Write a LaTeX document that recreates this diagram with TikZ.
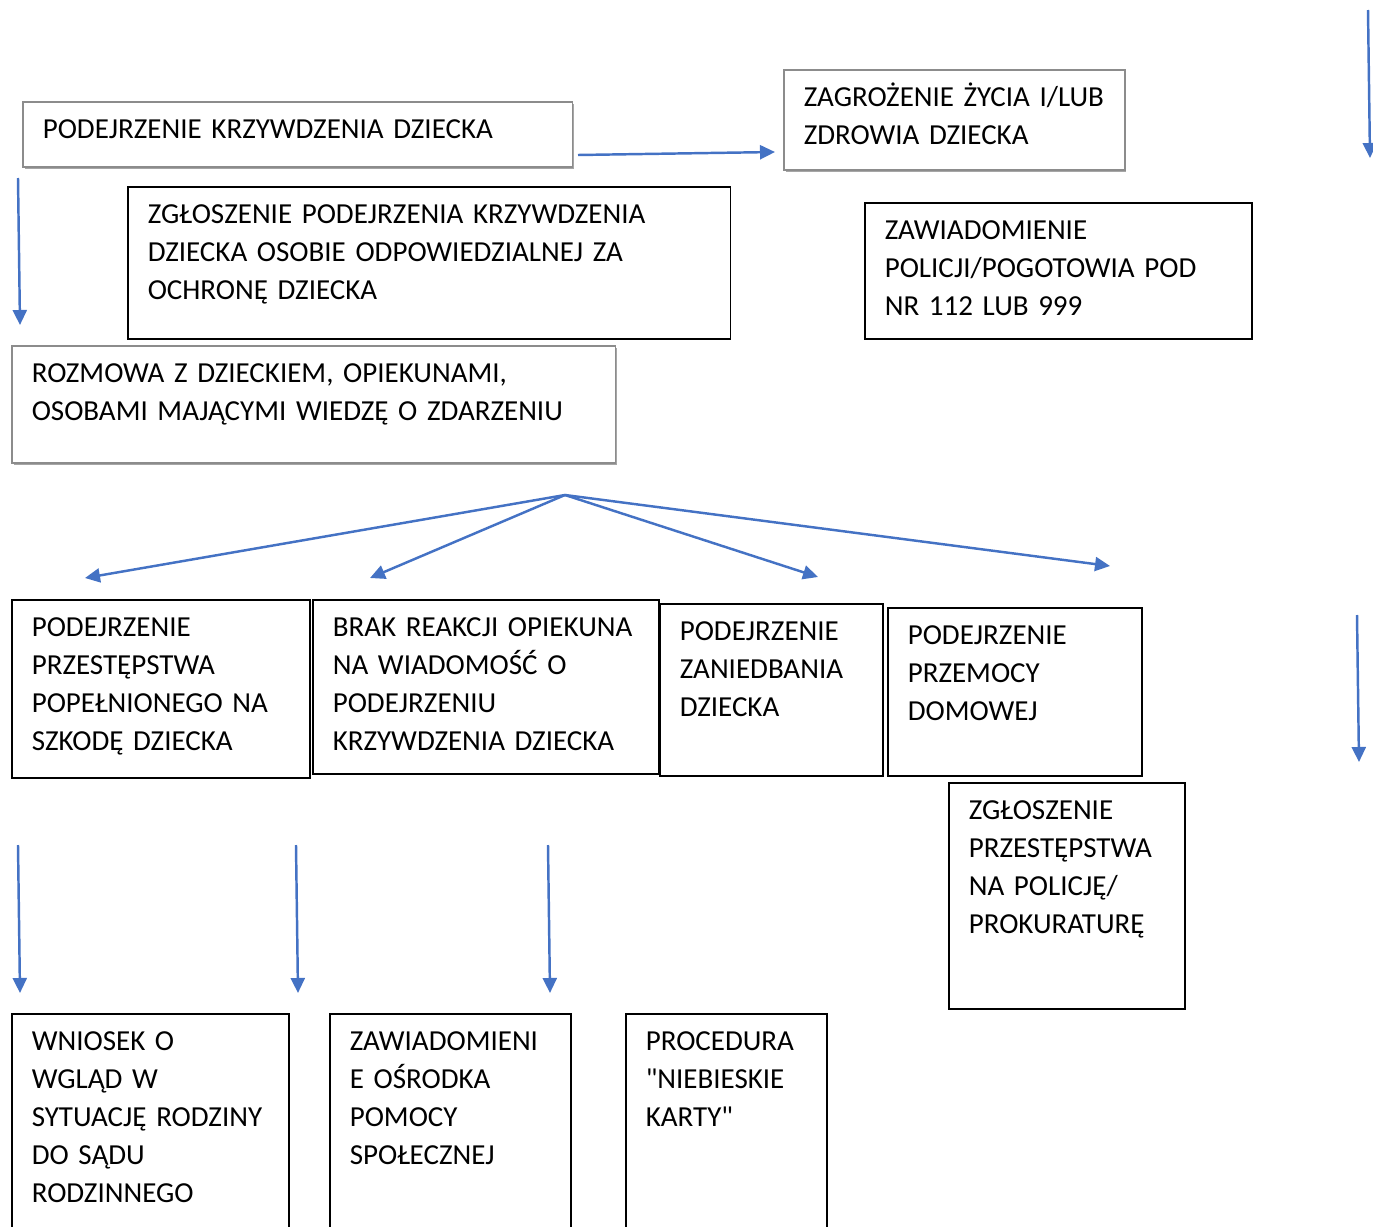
\documentclass[tikz,border=0pt]{standalone}
\usepackage{fontspec}
\setmainfont{Carlito}[Ligatures=TeXOff, WordSpace=0.4]
\usetikzlibrary{arrows.meta,shadows}
\definecolor{arrowblue}{HTML}{4472C4}

\begin{document}
\begin{tikzpicture}[x=0.02cm, y=-0.02cm,
    >={Triangle[length=0.3cm, width=0.28cm]},
    box/.style={draw, anchor=north west, align=left, inner xsep=0.4cm, inner ysep=0pt,
      text height=0.73cm, line width=0.9pt, font=\fontsize{16.5}{21.6}\selectfont},
    greybox/.style={box, draw=black!45, fill=white,
      drop shadow={shadow xshift=1pt, shadow yshift=-1pt, opacity=0.7}},
    flow/.style={->, draw=arrowblue, line width=1.4pt}]
    \useasboundingbox (0,0) rectangle (1373,1227);

    % Nodes
    \node[greybox, text width=10.2cm, text depth=0.57cm] at (22,101) (suspect) {PODEJRZENIE KRZYWDZENIA DZIECKA};
    \node[greybox, text width=6.02cm, text depth=1.27cm] at (783,69) (danger) {ZAGROŻENIE ŻYCIA I/LUB\\ZDROWIA DZIECKA};
    \node[box, text width=11.26cm, text depth=2.31cm] at (127,186) (report) {ZGŁOSZENIE PODEJRZENIA KRZYWDZENIA\\DZIECKA OSOBIE ODPOWIEDZIALNEJ ZA\\OCHRONĘ DZIECKA};
    \node[box, text width=6.94cm, text depth=1.99cm] at (864,202) (police) {ZAWIADOMIENIE\\POLICJI/POGOTOWIA POD\\NR 112 LUB 999};
    \node[greybox, text width=11.28cm, text depth=1.61cm] at (11,345) (talk) {ROZMOWA Z DZIECKIEM, OPIEKUNAMI,\\OSOBAMI MAJĄCYMI WIEDZĘ O ZDARZENIU};

    \node[box, text width=5.16cm, text depth=2.83cm] at (11,599) (crime) {PODEJRZENIE\\PRZESTĘPSTWA\\POPEŁNIONEGO NA\\SZKODĘ DZIECKA};
    \node[box, text width=6.12cm, text depth=2.75cm] at (312,599) (noreact) {BRAK REAKCJI OPIEKUNA\\NA WIADOMOŚĆ O\\PODEJRZENIU\\KRZYWDZENIA DZIECKA};
    \node[box, text width=3.66cm, text depth=2.71cm] at (659,603) (neglect) {PODEJRZENIE\\ZANIEDBANIA\\DZIECKA};
    \node[box, text width=4.28cm, text depth=2.63cm] at (887,607) (violence) {PODEJRZENIE\\PRZEMOCY\\DOMOWEJ};
    \node[box, text width=3.92cm, text depth=3.79cm] at (948,782) (prosecutor) {ZGŁOSZENIE\\PRZESTĘPSTWA\\NA POLICJĘ/\\PROKURATURĘ};

    \node[box, text width=4.74cm, text depth=3.81cm] at (11,1013) (court) {WNIOSEK O\\WGLĄD W\\SYTUACJĘ RODZINY\\DO SĄDU\\RODZINNEGO};
    \node[box, text width=4.02cm, text depth=3.81cm] at (329,1013) (welfare) {ZAWIADOMIENI\\E OŚRODKA\\POMOCY\\SPOŁECZNEJ};
    \node[box, text width=3.22cm, text depth=3.81cm] at (625,1013) (bluecards) {PROCEDURA\\"NIEBIESKIE\\KARTY"};

    % Arrow ends
    \coordinate (a1s) at (578,155);  \coordinate (a1e) at (775,152);
    \coordinate (a2s) at (18,178);   \coordinate (a2e) at (20,325);
    \coordinate (a3s) at (1368,10);  \coordinate (a3e) at (1370,158);
    \coordinate (a4s) at (1357,615); \coordinate (a4e) at (1359,762);
    \coordinate (fan) at (565,495);
    \coordinate (f1) at (85,578);    \coordinate (f2) at (370,578);
    \coordinate (f3) at (818,577);   \coordinate (f4) at (1110,566);
    \coordinate (b1s) at (18,845);   \coordinate (b1e) at (20,993);
    \coordinate (b2s) at (296,845);  \coordinate (b2e) at (298,993);
    \coordinate (b3s) at (548,845);  \coordinate (b3e) at (550,993);

    \draw[flow]  (a1s) -- (a1e);
    \draw[flow]  (a2s) -- (a2e);
    \draw[flow]  (a3s) -- (a3e);
    \draw[flow]  (a4s) -- (a4e);
    \draw[flow]  (fan) -- (f1);
    \draw[flow]  (fan) -- (f2);
    \draw[flow]  (fan) -- (f3);
    \draw[flow]  (fan) -- (f4);
    \draw[flow]  (b1s) -- (b1e);
    \draw[flow]  (b2s) -- (b2e);
    \draw[flow]  (b3s) -- (b3e);

  \end{tikzpicture}
\end{document}
